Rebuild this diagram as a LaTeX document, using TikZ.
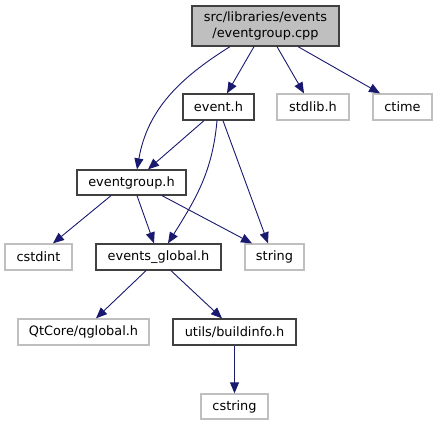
\documentclass[tikz,border=0pt]{standalone}
\usepackage{fontspec}
\setmainfont{DejaVu Sans}
\usetikzlibrary{arrows.meta,calc}
\definecolor{edgeblue}{RGB}{25,25,112}
\definecolor{darkborder}{RGB}{64,64,64}
\definecolor{lightborder}{RGB}{191,191,191}
\definecolor{topfill}{RGB}{191,191,191}
\begin{document}
\begin{tikzpicture}[x=1pt,y=1pt,
  every node/.style={font=\fontsize{12.9}{16}\selectfont, inner sep=0pt, anchor=center, align=center},
  filebox/.style={draw=darkborder, line width=1.3pt, fill=white, minimum height=26pt},
  sysbox/.style={draw=lightborder, line width=1.3pt, fill=white, minimum height=26pt},
  topbox/.style={draw=darkborder, line width=1.3pt, fill=topfill, minimum height=40pt},
  dep/.style={draw=edgeblue, line width=0.9pt, -{Triangle[length=11pt,width=9pt]}}
]
\useasboundingbox (0,0) rectangle (437,425);
% nodes (y = 425 - screen y)
\node[topbox, minimum width=147pt] (top) at (265.5,399) {src/libraries/events\\/eventgroup.cpp};
\node[filebox, minimum width=71pt] (event) at (218.5,318) {event.h};
\node[sysbox, minimum width=72pt] (stdlib) at (313,318) {stdlib.h};
\node[sysbox, minimum width=59pt] (ctime) at (402.5,318) {ctime};
\node[filebox, minimum width=109pt, minimum height=25pt] (egh) at (131.5,242.5) {eventgroup.h};
\node[sysbox, minimum width=67pt] (cstdint) at (38.5,168) {cstdint};
\node[filebox, minimum width=125pt] (glob) at (158.5,168) {events\_global.h};
\node[sysbox, minimum width=59pt] (string) at (274.5,168) {string};
\node[sysbox, minimum width=131pt] (qglobal) at (83.5,93) {QtCore/qglobal.h};
\node[filebox, minimum width=123pt] (build) at (234.5,93) {utils/buildinfo.h};
\node[sysbox, minimum width=67pt, minimum height=25pt] (cstring) at (234.5,18.5) {cstring};
% edges
\draw[dep] ([xshift=-35.5pt]top.south) to[out=212,in=80] ([xshift=5.5pt]egh.north);
\draw[dep] ([xshift=-11.5pt]top.south) -- ([xshift=8.5pt]event.north);
\draw[dep] ([xshift=11.5pt]top.south) -- ([xshift=-9pt]stdlib.north);
\draw[dep] ([xshift=32.5pt]top.south) -- ([xshift=-22.5pt]ctime.north);
\draw[dep] ([xshift=-14.5pt]event.south) -- ([xshift=16.5pt]egh.north);
\draw[dep] ([xshift=-1.5pt]event.south) to[out=-95,in=58] ([xshift=9.5pt]glob.north);
\draw[dep] ([xshift=4.5pt]event.south) -- ([xshift=-6.5pt]string.north);
\draw[dep] ([xshift=-20.5pt]egh.south) -- ([xshift=14.5pt]cstdint.north);
\draw[dep] ([xshift=5.5pt]egh.south) -- ([xshift=-4.5pt]glob.north);
\draw[dep] ([xshift=30.5pt]egh.south) -- ([xshift=-22.5pt]string.north);
\draw[dep] ([xshift=-12.5pt]glob.south) -- ([xshift=12.5pt]qglobal.north);
\draw[dep] ([xshift=12.5pt]glob.south) -- ([xshift=-12.5pt]build.north);
\draw[dep] (build.south) -- (cstring.north);
\end{tikzpicture}
\end{document}
